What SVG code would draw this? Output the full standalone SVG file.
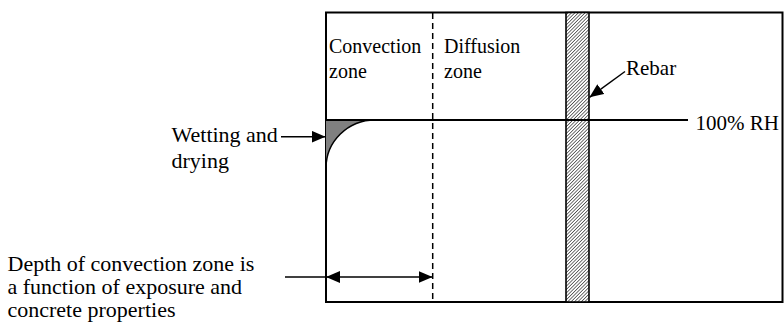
<svg xmlns="http://www.w3.org/2000/svg" width="784" height="323" viewBox="0 0 784 323">
<style>
text{font-family:"Liberation Serif","Times New Roman",serif;fill:#000}
.ln{stroke:#000;fill:none}
</style>
<defs>
<pattern id="hatch" width="2.4" height="2.4" patternUnits="userSpaceOnUse" patternTransform="rotate(45)">
<rect width="2.4" height="2.4" fill="#fff"/>
<line x1="0" y1="0" x2="0" y2="2.4" stroke="#000" stroke-width="1.1"/>
</pattern>
<marker id="ah" markerWidth="14" markerHeight="12" refX="14" refY="6" orient="auto" markerUnits="userSpaceOnUse">
<path d="M0,0 L14,6 L0,12 z" fill="#000"/>
</marker>
<marker id="ahs" markerWidth="14" markerHeight="12" refX="0" refY="6" orient="auto" markerUnits="userSpaceOnUse">
<path d="M14,0 L0,6 L14,12 z" fill="#000"/>
</marker>
</defs>
<g id="concrete">
<rect x="326" y="12.5" width="456.5" height="289.5" fill="#fff" stroke="#000" stroke-width="2"/>
</g>
<g id="wetting-wedge">
<path d="M326,120 L375,120 A49,48 0 0 0 326,168 Z" fill="#808080"/>
<path d="M326,168 A49,48 0 0 1 375,120" class="ln" stroke-width="1.5"/>
</g>
<g id="rebar">
<rect x="566" y="12.5" width="23" height="289.5" fill="url(#hatch)" stroke="#000" stroke-width="1.6"/>
</g>
<g id="zone-boundary">
<line x1="432.7" y1="13" x2="432.7" y2="302" class="ln" stroke-width="1.5" stroke-dasharray="6,4"/>
</g>
<g id="rh-line">
<line x1="326" y1="120" x2="688" y2="120" class="ln" stroke-width="2"/>
</g>
<g id="labels">
<text x="329" y="53" font-size="20">Convection</text>
<text x="329" y="78" font-size="20">zone</text>
<text x="444" y="53" font-size="20">Diffusion</text>
<text x="444" y="78" font-size="20">zone</text>
<text x="626" y="74.5" font-size="21">Rebar</text>
<text x="695.5" y="130" font-size="21">100% RH</text>
<text x="171.5" y="141.7" font-size="22">Wetting and</text>
<text x="171.5" y="168" font-size="22">drying</text>
<text x="7.5" y="270.5" font-size="22">Depth of convection zone is</text>
<text x="7.5" y="293.5" font-size="22">a function of exposure and</text>
<text x="7.5" y="316.5" font-size="22">concrete properties</text>
</g>
<g id="connectors">
<line x1="625" y1="71.5" x2="589.5" y2="97.3" class="ln" stroke-width="1.5" marker-end="url(#ah)"/>
<line x1="281" y1="136.7" x2="325.5" y2="136.7" class="ln" stroke-width="1.5" marker-end="url(#ah)"/>
<line x1="285" y1="277" x2="326" y2="277" class="ln" stroke-width="1.5"/>
<line x1="326" y1="277" x2="432.5" y2="277" class="ln" stroke-width="1.5" marker-start="url(#ahs)" marker-end="url(#ah)"/>
</g>
</svg>
